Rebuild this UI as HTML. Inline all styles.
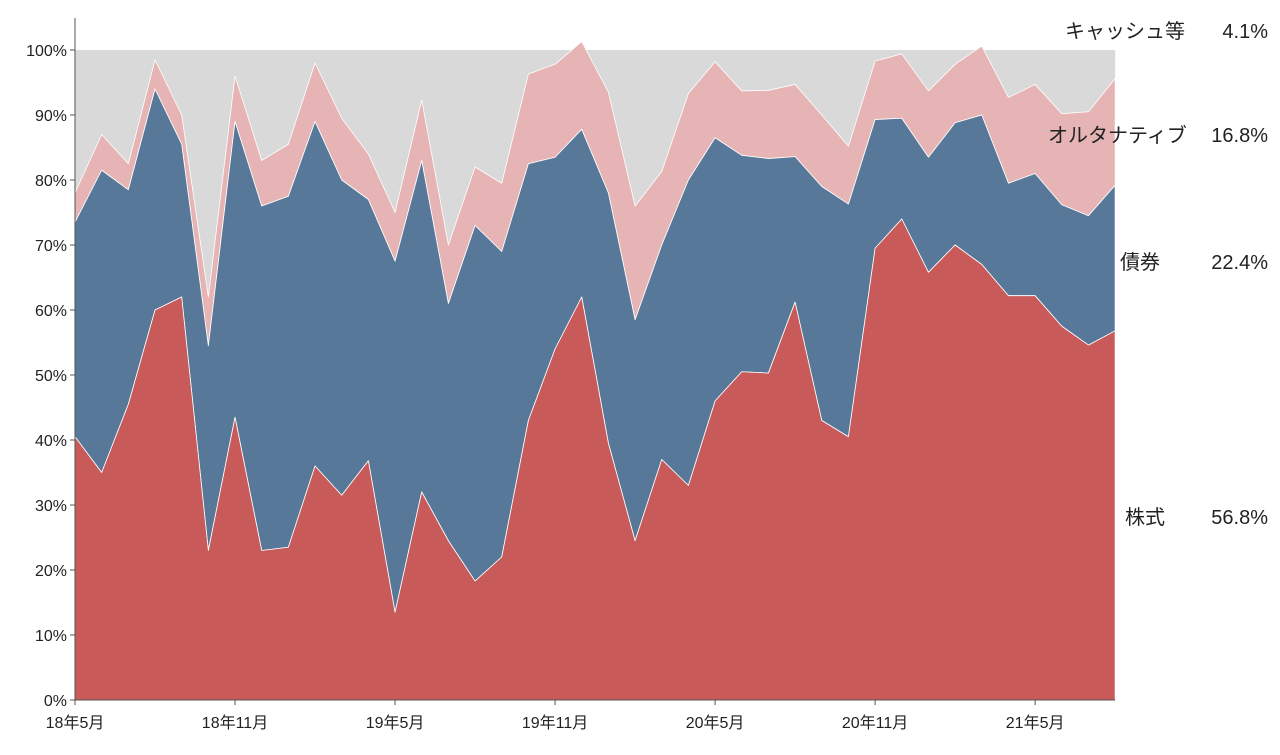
<!DOCTYPE html>
<html><head><meta charset="utf-8">
<style>
body{margin:0;background:#fff;}
svg text{font-family:"Liberation Sans","Noto Sans CJK JP",sans-serif;fill:#222;}
</style></head>
<body>
<svg id="chart" width="1280" height="750" viewBox="0 0 1280 750" xmlns="http://www.w3.org/2000/svg">
<g id="plot"></g>
<g id="axes"></g>
<g id="labels"></g>
</svg>
<script>
const stock=[40.5,35,45.5,60,62,23,43.5,23,23.5,36,31.5,36.8,13.5,32,24.5,18.3,22,43,54,62,39.5,24.5,37,33,46,50.5,50.3,61.2,43,40.5,69.5,74,65.8,70,67,62.2,62.2,57.5,54.6,56.8];
const bond=[33,46.5,33,34,23.5,31.5,45.5,53,54,53,48.5,40.2,54,51,36.5,54.7,47,39.5,29.5,25.8,38.5,34,33,47,40.5,33.3,33,22.4,36,35.8,19.8,15.5,17.7,18.8,23,17.3,18.8,18.7,19.9,22.4];
const alt=[4.5,5.5,4,4.5,4.5,7.5,7,7,8,9,9.5,7,7.5,9.3,9,9,10.5,13.8,14.3,13.5,15.5,17.5,11.3,13.3,11.7,9.9,10.5,11.1,11,8.9,9,9.9,10.2,9,10.6,13.2,13.7,14,16,16.4];
const yTicks=[0,10,20,30,40,50,60,70,80,90,100];
const xTickIdx=[0,6,12,18,24,30,36];
const xTickLabels=["18年5月","18年11月","19年5月","19年11月","20年5月","20年11月","21年5月"];
const seriesNames=["株式","債券","オルタナティブ","キャッシュ等"];
const lastValues=["56.8%","22.4%","16.8%","4.1%"];

const NS="http://www.w3.org/2000/svg";
const X0=75,STEP=26.67,Y0=700,YS=6.5;
const xs=i=>X0+STEP*i;
const ys=v=>Y0-v*YS;
function mk(t,a,p){const e=document.createElementNS(NS,t);for(const k in a)e.setAttribute(k,a[k]);p.appendChild(e);return e;}
const plot=document.getElementById('plot'),axes=document.getElementById('axes'),labels=document.getElementById('labels');
const n=stock.length;
// cash background
const bg=mk('rect',{x:X0,y:ys(100),width:xs(n-1)-X0,height:100*YS,fill:'#d9d9d9'},plot);


const cum0=stock.map(()=>0);
const cum1=stock.slice();
const cum2=stock.map((v,i)=>v+bond[i]);
const cum3=cum2.map((v,i)=>v+alt[i]);
function area(lo,hi,color,name){
  let d='M'+xs(0)+','+ys(hi[0]);
  for(let i=1;i<n;i++)d+='L'+xs(i)+','+ys(hi[i]);
  for(let i=n-1;i>=0;i--)d+='L'+xs(i)+','+ys(lo[i]);
  d+='Z';
  const p=mk('path',{d:d,fill:color,stroke:'#fff','stroke-width':0.8,'stroke-linejoin':'round'},plot);
  
  
}
area(cum2,cum3,'#e6b4b4','area-alternative');
area(cum1,cum2,'#587899','area-bond');
area(cum0,cum1,'#c85a5a','area-stock');
// axes
const ya=mk('line',{x1:X0,y1:18,x2:X0,y2:Y0,stroke:'#555','stroke-width':1},axes);


const xa=mk('line',{x1:X0,y1:Y0,x2:xs(n-1),y2:Y0,stroke:'#555','stroke-width':1},axes);


yTicks.forEach(v=>{
  mk('line',{x1:X0-5,y1:ys(v),x2:X0,y2:ys(v),stroke:'#555'},axes);
  const t=mk('text',{x:X0-8,y:ys(v)+6,'text-anchor':'end','font-size':16},axes);
  t.textContent=v+'%';
  
  
});
xTickIdx.forEach((idx,k)=>{
  mk('line',{x1:xs(idx),y1:Y0,x2:xs(idx),y2:Y0+5,stroke:'#555'},axes);
  const t=mk('text',{x:xs(idx),y:Y0+28,'text-anchor':'middle','font-size':16},axes);
  t.textContent=xTickLabels[k];
  
  
});
// right labels
const labelPos=[[1125,524],[1120,269],[1048,142],[1065,38]];
seriesNames.forEach((s,k)=>{
  const t=mk('text',{x:labelPos[k][0],y:labelPos[k][1],'font-size':20},labels);
  t.textContent=s;
  
  
  const v=mk('text',{x:1268,y:labelPos[k][1],'font-size':20,'text-anchor':'end'},labels);
  v.textContent=lastValues[k];
  
  
});
</script>
</body></html>
